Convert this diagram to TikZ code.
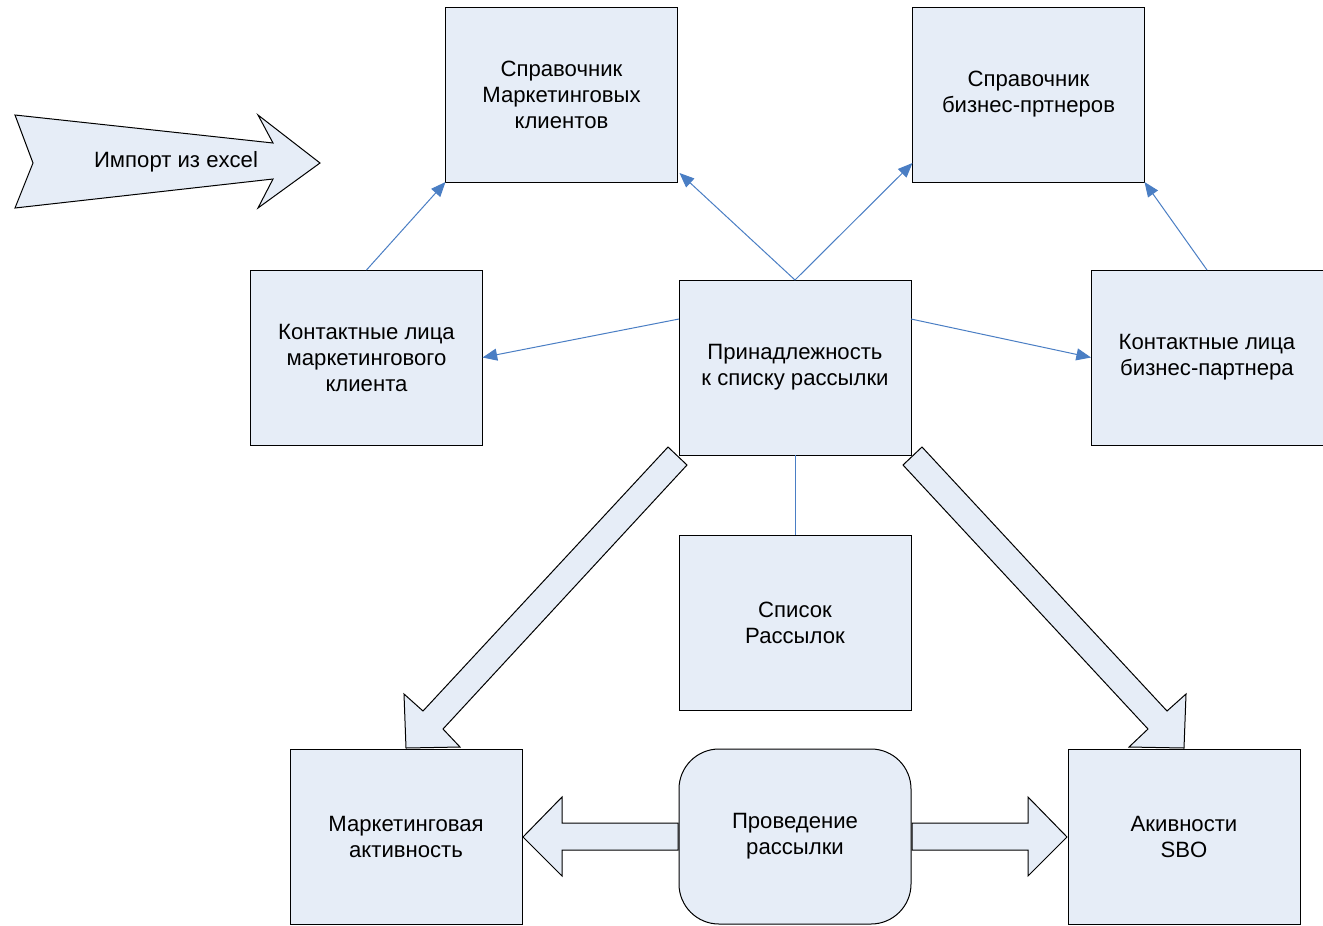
\documentclass[tikz,border=0pt]{standalone}
\usepackage{fontspec}
\setmainfont{Liberation Sans}
\usetikzlibrary{arrows.meta,calc}
\definecolor{boxfill}{RGB}{230,237,247}
\definecolor{linkblue}{RGB}{74,126,196}
\tikzset{
  box/.style={draw=black, line width=0.75pt, fill=boxfill, minimum width=174pt, minimum height=131.25pt,
    inner sep=0pt, outer sep=0pt, align=center, font=\fontsize{16.6}{19.5}\selectfont},
  roundbox/.style={box, rounded corners=30pt},
  link/.style={draw=linkblue, line width=0.75pt, -{Triangle[length=11pt,width=9pt]}},
  plainlink/.style={draw=linkblue, line width=0.75pt},
  blockarrow/.style={draw=black, line width=0.75pt, fill=boxfill, line join=miter},
  lbl/.style={font=\fontsize{16.6}{19.5}\selectfont, inner sep=0pt}
}
\begin{document}
\begin{tikzpicture}[x=0.75pt,y=-0.75pt]
\useasboundingbox[fill=white] (0,0) rectangle (1323,925);

% block arrow "Import"
\draw[blockarrow] (15,115) -- (273,143) -- (258,115) -- (320,163) -- (258,208) -- (273,179) -- (15,208) -- (33,163) -- cycle;
\node[lbl] (imp) at (176,162) {Импорт из excel};

% boxes
\node[box] (smk) at (561.5,94.5) {Справочник\\Маркетинговых\\клиентов};
\node[box] (sbp) at (1028.5,94.5) {Справочник\\бизнес-пртнеров};
\node[box] (kmk) at (366.5,357.5) {Контактные лица\\маркетингового\\клиента};
\node[box] (prin) at (795,367.5) {Принадлежность\\к списку рассылки};
\node[box] (kbp) at (1207,357.5) {Контактные лица\\бизнес-партнера};
\node[box] (spis) at (795,622.5) {Список\\Рассылок};
\node[box] (mark) at (406,836.5) {Маркетинговая\\активность};
\node[roundbox] (prov) at (795,836.5) {Проведение\\рассылки};
\node[box] (akiv) at (1184,836.5) {Акивности\\SBO};

% thin connectors
\draw[link] (kmk.north) -- (smk.south west);
\draw[link] (prin.north) -- ($(smk.south east)+(2,-9)$);
\draw[link] (prin.north) -- ($(sbp.south west)+(0,-19)$);
\draw[link] (kbp.north) -- (sbp.south east);
\draw[link] ($(prin.north west)+(0,39)$) -- (kmk.east);
\draw[link] ($(prin.north east)+(0,39)$) -- (kbp.west);
\draw[plainlink] (prin.south) -- (spis.north);

% big diagonal block arrows
\draw[blockarrow] (668,447) -- (423,711) -- (404,694) -- (406,748) -- (460,747) -- (443,729) -- (687,465) -- cycle;
\draw[blockarrow] (922,447) -- (1167,711) -- (1186,694) -- (1184,748) -- (1129,747) -- (1148,729) -- (903,465) -- cycle;

% horizontal block arrows
\draw[blockarrow] (678,823) -- (562,823) -- (562,797) -- (523,837) -- (562,876) -- (562,850) -- (678,850) -- cycle;
\draw[blockarrow] (912,823) -- (1028,823) -- (1028,797) -- (1067,837) -- (1028,876) -- (1028,850) -- (912,850) -- cycle;
\end{tikzpicture}
\end{document}
